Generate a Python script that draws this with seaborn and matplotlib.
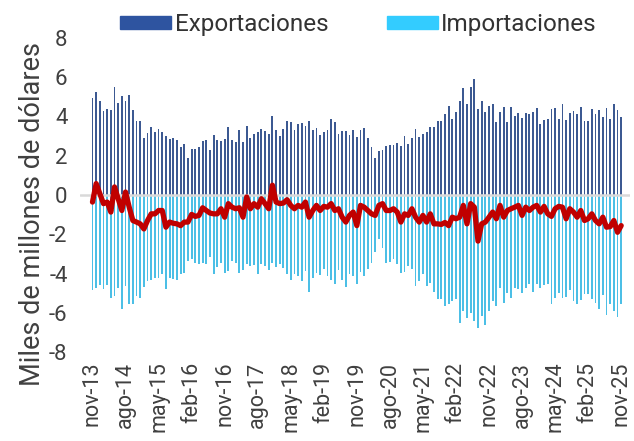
#!/usr/bin/env python3
"""
Exportaciones / importaciones mensuales con la balanza comercial (nov-13 a nov-25).
"""

import numpy as np
import pandas as pd

import matplotlib
matplotlib.use('Agg')
import matplotlib.pyplot as plt
from matplotlib.patches import Patch
import seaborn as sns

# Meses (categorías del eje x)
MESES_ES = ["ene", "feb", "mar", "abr", "may", "jun",
            "jul", "ago", "sep", "oct", "nov", "dic"]
fechas = pd.date_range("2013-11-01", "2025-11-01", freq="MS")
meses = [f"{MESES_ES[d.month - 1]}-{d.year % 100:02d}" for d in fechas]

# Miles de millones de dólares
exportaciones = [
    4.94, 5.25, 4.80, 4.27, 4.39, 4.32, 5.50, 4.70, 5.04, 4.80, 5.08, 4.32,
    3.79, 3.79, 2.91, 3.16, 3.45, 3.23, 3.38, 3.21, 3.03, 2.85, 2.89, 2.80,
    2.44, 2.58, 1.91, 2.32, 2.34, 2.46, 2.77, 2.79, 2.27, 3.04, 2.79, 2.77,
    2.84, 3.47, 2.79, 2.70, 3.30, 2.70, 3.50, 2.89, 3.11, 3.20, 3.38, 3.26,
    3.11, 4.02, 3.32, 3.03, 3.37, 3.78, 3.71, 3.33, 3.62, 3.68, 3.52, 3.76,
    3.32, 3.40, 3.06, 3.20, 3.33, 3.86, 3.74, 3.09, 3.26, 3.26, 3.06, 3.30,
    2.94, 3.32, 3.40, 2.92, 2.43, 1.86, 2.22, 2.29, 2.51, 2.56, 2.53, 2.63,
    2.50, 3.01, 2.60, 2.92, 3.37, 2.96, 3.09, 3.20, 3.45, 3.45, 3.78, 3.78,
    4.15, 4.55, 3.86, 4.21, 4.77, 5.45, 4.65, 5.50, 5.91, 4.38, 4.77, 4.21,
    4.56, 4.63, 3.71, 4.22, 4.46, 3.74, 4.50, 4.03, 4.17, 3.91, 4.17, 4.15,
    4.21, 4.43, 3.62, 3.83, 3.86, 4.39, 4.43, 3.86, 4.62, 3.83, 4.17, 4.29,
    4.12, 4.48, 3.78, 3.78, 4.38, 4.12, 4.32, 3.95, 4.43, 3.86, 4.65, 4.31,
    4.00,
]

importaciones = [
    -4.82, -4.72, -4.58, -4.79, -4.58, -5.23, -5.16, -4.72, -5.83, -4.65, -5.54, -5.57,
    -5.15, -5.23, -4.68, -4.38, -4.34, -4.24, -4.24, -4.03, -4.77, -4.24, -4.29, -4.34,
    -4.03, -3.95, -3.35, -3.26, -3.44, -3.52, -3.44, -3.52, -3.18, -4.00, -3.69, -3.44,
    -3.98, -3.86, -3.35, -3.49, -3.95, -3.83, -3.52, -3.61, -3.57, -4.00, -3.52, -3.60,
    -3.81, -3.47, -3.69, -3.52, -3.73, -4.03, -4.31, -4.05, -4.15, -4.38, -3.86, -4.94,
    -4.24, -3.98, -4.07, -3.78, -4.12, -4.32, -4.56, -3.81, -4.34, -4.68, -4.03, -4.15,
    -4.55, -3.90, -4.12, -3.78, -3.44, -2.92, -2.24, -2.70, -3.44, -3.40, -3.26, -3.52,
    -3.95, -3.90, -3.61, -3.78, -4.63, -4.38, -4.03, -4.63, -4.46, -4.94, -5.28, -5.32,
    -5.66, -5.57, -5.40, -5.32, -6.51, -5.91, -6.26, -6.00, -6.43, -6.77, -6.17, -6.60,
    -5.91, -5.40, -5.66, -4.72, -5.52, -4.97, -5.23, -4.72, -4.81, -4.97, -4.72, -4.55,
    -4.92, -4.55, -4.72, -4.58, -4.51, -5.54, -5.23, -4.97, -5.23, -5.20, -4.85, -5.40,
    -5.54, -5.37, -5.03, -5.03, -5.28, -5.52, -5.83, -5.09, -6.12, -5.54, -5.91, -6.22,
    -5.57,
]

balanza = [
    -0.36, 0.58, 0.07, -0.44, -0.36, -0.87, 0.41, -0.19, -0.79, 0.15, -0.62, -1.30,
    -1.38, -1.47, -1.73, -1.30, -0.96, -0.96, -0.79, -0.79, -1.64, -1.38, -1.44, -1.47,
    -1.56, -1.38, -1.38, -0.99, -1.09, -1.04, -0.65, -0.79, -0.92, -0.96, -0.96, -0.70,
    -1.13, -0.44, -0.62, -0.70, -0.65, -1.13, -0.10, -0.70, -0.44, -0.62, -0.19, -0.44,
    -0.70, 0.50, -0.36, -0.44, -0.41, -0.24, -0.53, -0.70, -0.53, -0.62, -0.36, -1.13,
    -0.79, -0.53, -0.79, -0.58, -0.62, -0.44, -0.79, -0.70, -1.13, -1.38, -1.04, -0.87,
    -1.56, -0.53, -0.62, -0.79, -0.96, -1.04, -0.53, -0.44, -0.79, -0.79, -0.70, -0.87,
    -1.38, -0.96, -1.04, -0.70, -1.13, -1.38, -1.04, -1.38, -0.96, -1.47, -1.47, -1.50,
    -1.40, -1.56, -1.13, -1.21, -1.13, -0.53, -1.47, -0.44, -0.62, -2.35, -1.47, -1.38,
    -1.13, -0.87, -1.21, -0.53, -1.13, -0.79, -0.70, -0.62, -0.53, -1.04, -0.62, -0.79,
    -0.62, -0.53, -0.87, -0.58, -0.96, -1.09, -0.70, -0.58, -0.62, -1.21, -0.70, -0.87,
    -1.13, -0.79, -1.30, -1.21, -0.96, -1.30, -1.47, -1.13, -1.64, -1.61, -1.30, -1.90,
    -1.56,
]

y_ticks = [-8, -6, -4, -2, 0, 2, 4, 6, 8]

COLOR_EXP = "#2E54A0"
COLOR_IMP = "#33CCFF"
COLOR_BAL = "#C00000"
COLOR_TXT = "#404040"


def main():
    sns.set_theme(style="white")
    plt.rcParams["font.family"] = ["Roboto", "DejaVu Sans"]
    plt.rcParams["axes.unicode_minus"] = False

    idx = np.arange(len(meses))
    df = pd.DataFrame({"pos": idx, "mes": meses, "exp": exportaciones,
                       "imp": importaciones, "bal": balanza})

    fig = plt.figure(figsize=(6.34, 4.41), dpi=100)
    ax = fig.add_axes([80 / 634, 1 - 352 / 441, 550 / 634, 314 / 441])

    sns.barplot(data=df, x="pos", y="exp", native_scale=True, width=0.5,
                color=COLOR_EXP, linewidth=0, errorbar=None, ax=ax)
    sns.barplot(data=df, x="pos", y="imp", native_scale=True, width=0.5,
                color=COLOR_IMP, linewidth=0, errorbar=None, ax=ax)
    ax.axhline(0, color="#D9D9D9", lw=1.8, zorder=2.5)
    sns.lineplot(data=df, x="pos", y="bal", color=COLOR_BAL, linewidth=3.8,
                 zorder=3, ax=ax)

    ax.set_xlim(-3.4, 146.4)
    ax.set_ylim(-8, 8)
    ax.set_yticks(y_ticks)
    ax.set_yticklabels([str(t) for t in y_ticks], fontsize=16, color=COLOR_TXT)
    ax.set_xticks(idx[::9])
    ax.set_xticklabels(meses[::9], rotation=90, fontsize=15.5, color=COLOR_TXT)
    ax.tick_params(axis="y", length=0, pad=9)
    ax.tick_params(axis="x", length=0, pad=7)
    ax.set_xlabel("")
    ax.set_ylabel("Miles de millones de dólares", fontsize=19.5, color=COLOR_TXT)
    ax.yaxis.set_label_coords(-0.062, 0.44)
    sns.despine(ax=ax, left=True, bottom=True)

    handles = [Patch(color=COLOR_EXP), Patch(color=COLOR_IMP)]
    leg = fig.legend(handles, ["Exportaciones", "Importaciones"],
                     loc="center left", bbox_to_anchor=(120 / 634, 1 - 25 / 441),
                     ncol=2, frameon=False, fontsize=17.5, handlelength=2.1,
                     handleheight=0.45, handletextpad=0.15, columnspacing=2.4,
                     borderpad=0, borderaxespad=0)
    for t in leg.get_texts():
        t.set_color("#333333")

    fig.savefig("out.png", dpi=100)
    plt.close(fig)


if __name__ == "__main__":
    main()
